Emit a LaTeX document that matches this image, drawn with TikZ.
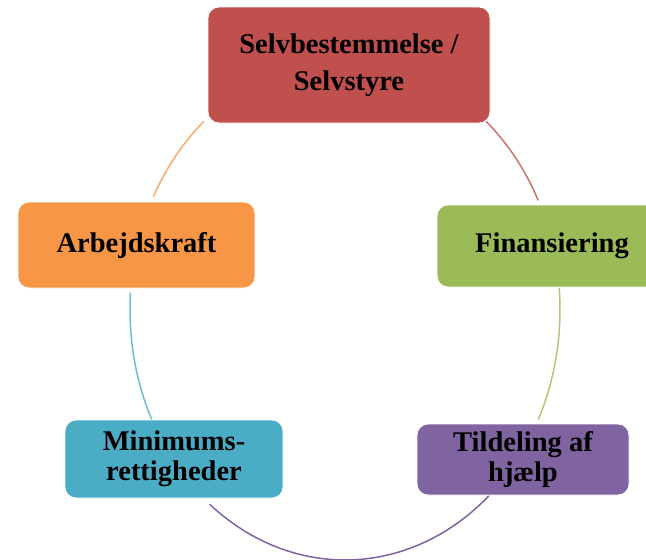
\documentclass[tikz,border=0pt]{standalone}
\usepackage{fontspec}
\setmainfont{Liberation Serif}
\definecolor{cred}{HTML}{C0504D}
\definecolor{cgreen}{HTML}{9BBB59}
\definecolor{cpurple}{HTML}{8064A2}
\definecolor{cblue}{HTML}{4BACC6}
\definecolor{corange}{HTML}{F79646}
\begin{document}
\begin{tikzpicture}[x=1pt,y=-1pt,
  box/.style={rounded corners=11pt,draw=white,line width=0.8pt,inner sep=0pt,
    font=\fontsize{28.5}{37}\selectfont\bfseries,align=center,text=black},
  tight/.style={font=\fontsize{28.5}{30}\selectfont\bfseries},
  arcline/.style={line width=1.5pt}]
\clip (0,0) rectangle (646,560);
\fill[white] (0,0) rectangle (646,560);
% ellipse arcs
\coordinate (c) at (345,310);
\draw[arcline,corange!80] plot[domain=207:229,samples=40] ({345+215*cos(\x)},{310+250*sin(\x)});
\draw[arcline,cred!80] plot[domain=311:334,samples=40] ({345+215*cos(\x)},{310+250*sin(\x)});
\draw[arcline,cgreen!80] plot[domain=-5:26,samples=40] ({345+215*cos(\x)},{310+250*sin(\x)});
\draw[arcline,cpurple] plot[domain=48:129,samples=80] ({345+215*cos(\x)},{310+250*sin(\x)});
\draw[arcline,cblue!80] plot[domain=154:184,samples=40] ({345+215*cos(\x)},{310+250*sin(\x)});
% boxes
\node[box,fill=cred,minimum width=282pt,minimum height=116pt] (a) at (349,65) {Selvbestemmelse /\\Selvstyre};
\node[box,fill=cgreen,minimum width=230pt,minimum height=82pt] (b) at (552,246) {Finansiering};
\node[box,tight,fill=cpurple,minimum width=212pt,minimum height=71pt] (c2) at (523,459.5) {Tildeling af\\hjælp};
\node[box,tight,fill=cblue,minimum width=218pt,minimum height=78pt] (d) at (174,459) {Minimums-\\rettigheder};
\node[box,fill=corange,minimum width=237pt,minimum height=86pt] (e) at (136.5,245) {Arbejdskraft};
\end{tikzpicture}
\end{document}
